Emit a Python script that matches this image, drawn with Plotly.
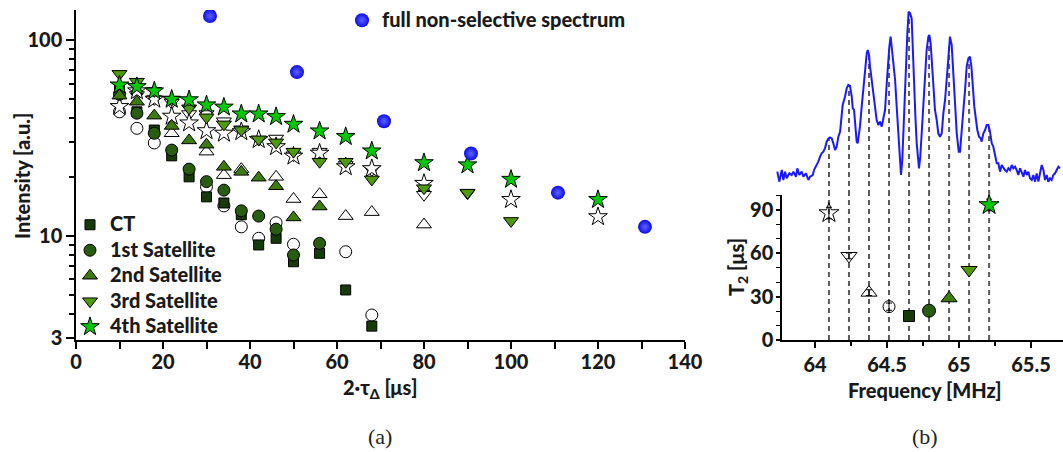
import numpy as np
import plotly.graph_objects as go

W, H = 1063, 452

# ---------------- echo decay data: 2*tau_delta [µs] vs. intensity [a.u.] ----------------
tau_ct = [10, 14, 18, 22, 26, 30, 34, 38, 42, 46, 50, 56, 62, 68]
int_ct = [57, 43, 34.7, 25.6, 20.0, 15.8, 14.7, 12.8, 8.97, 9.7, 7.36, 8.13, 5.28, 3.45]

tau_s1 = [10, 14, 18, 22, 26, 30, 34, 38, 42, 46, 50, 56]
int_s1 = [52.8, 42.3, 33.4, 27.4, 21.9, 18.9, 17.1, 13.4, 12.6, 10.8, 7.97, 9.14]
tau_s1_low = [10, 14, 18, 30, 34, 38, 42, 46, 50, 62, 68]
int_s1_low = [43.0, 35.4, 29.8, 17.8, 14.2, 11.1, 9.7, 11.65, 9.04, 8.28, 3.93]

tau_s2 = [10, 14, 18, 22, 26, 30, 34, 38, 42, 46, 50, 56]
int_s2 = [52, 48.4, 41.1, 36.4, 30.7, 29.2, 22.5, 21.2, 19.8, 17.9, 12.4, 14.1]
tau_s2_low = [22, 30, 34, 38, 46, 50, 56, 62, 68, 80]
int_s2_low = [33.4, 26.9, 20.4, 21.9, 20.0, 15.4, 16.3, 12.6, 13.2, 11.4]

tau_s3 = [10, 14, 18, 22, 26, 30, 34, 38, 42, 46, 50, 56, 62, 68, 80, 90, 100]
int_s3 = [67.2, 61.3, 55.0, 49.6, 44.8, 40.3, 37.1, 34.7, 31.1, 30.0, 26.9, 23.9, 23.9,
          19.4, 17.5, 16.6, 11.9]
tau_s3_low = [14, 18, 22, 26, 30, 34, 38, 42, 46, 50, 56, 62, 68, 80, 90]
int_s3_low = [52.4, 50.0, 48.0, 41.9, 41.9, 38.5, 35.0, 31.0, 31.4, 25.8, 26.9, 23.0,
              21.7, 16.2, 16.5]

tau_s4 = [10, 14, 18, 22, 26, 30, 34, 38, 42, 46, 50, 56, 62, 68, 80, 90, 100, 120]
int_s4 = [58.9, 57.8, 54.9, 49.8, 49.5, 46.6, 45.4, 41.9, 41.9, 40.6, 37.1, 34.3, 32.1,
          27.1, 23.6, 23.0, 19.4, 15.3]
tau_s4_low = [10, 14, 18, 22, 26, 30, 34, 38, 42, 46, 50, 56, 62, 68, 80, 100, 120]
int_s4_low = [45.7, 55.0, 49.8, 40.8, 37.7, 34.4, 33.4, 34.0, 31.0, 28.5, 25.5, 26.4,
              22.5, 22.0, 18.5, 15.3, 12.5]

tau_full = [30.8, 50.8, 70.8, 90.8, 110.8, 130.8]
int_full = [132.7, 68.6, 38.5, 26.3, 16.6, 11.1]

# ---------------- NMR spectrum (frequency [MHz], intensity [a.u.]) ----------------
spec_freq = [
    63.738, 63.752, 63.769, 63.780, 63.792, 63.803, 63.822, 63.838, 63.850, 63.868,
    63.877, 63.891, 63.907, 63.919, 63.937, 63.954, 63.965, 63.984, 63.993, 64.007,
    64.023, 64.035, 64.046, 64.058, 64.069, 64.081, 64.093, 64.104, 64.116, 64.127,
    64.139, 64.150, 64.162, 64.174, 64.185, 64.192, 64.208, 64.220, 64.231, 64.243,
    64.255, 64.262, 64.271, 64.280, 64.289, 64.296, 64.306, 64.312, 64.324, 64.336,
    64.347, 64.359, 64.366, 64.375, 64.382, 64.394, 64.405, 64.417, 64.428, 64.440,
    64.451, 64.463, 64.475, 64.486, 64.498, 64.509, 64.516, 64.525, 64.532, 64.544,
    64.556, 64.567, 64.579, 64.590, 64.597, 64.606, 64.613, 64.620, 64.630, 64.641,
    64.650, 64.660, 64.671, 64.678, 64.687, 64.697, 64.706, 64.715, 64.722, 64.731,
    64.741, 64.752, 64.764, 64.775, 64.787, 64.794, 64.803, 64.812, 64.822, 64.833,
    64.845, 64.856, 64.868, 64.880, 64.891, 64.903, 64.914, 64.926, 64.937, 64.949,
    64.956, 64.965, 64.975, 64.984, 64.998, 65.007, 65.019, 65.030, 65.042, 65.053,
    65.065, 65.076, 65.086, 65.095, 65.106, 65.118, 65.127, 65.139, 65.150, 65.157,
    65.169, 65.181, 65.192, 65.204, 65.215, 65.227, 65.238, 65.250, 65.262, 65.273,
    65.285, 65.296, 65.308, 65.319, 65.331, 65.343, 65.354, 65.366, 65.377, 65.389,
    65.400, 65.412, 65.424, 65.435, 65.447, 65.458, 65.470, 65.481, 65.493, 65.505,
    65.516, 65.528, 65.539, 65.551, 65.562, 65.574, 65.586, 65.597, 65.609, 65.620,
    65.632, 65.643, 65.655, 65.667, 65.678, 65.690, 65.701,
]
spec_int = [
    9.0, 3.0, 10.0, 4.0, 9.0, 5.0, 8.0, 7.0, 9.0, 6.0,
    11.0, 7.0, 9.0, 6.0, 8.0, 4.0, 6.0, 7.0, 10.0, 12.0,
    15.0, 18.0, 20.0, 21.0, 23.0, 27.0, 29.0, 29.6, 29.0, 26.0,
    22.0, 24.0, 30.0, 33.0, 42.0, 49.0, 54.0, 59.0, 61.0, 60.4,
    54.0, 47.0, 46.0, 38.0, 27.0, 26.0, 32.0, 36.0, 48.0, 60.0,
    72.0, 80.0, 82.0, 79.0, 72.0, 64.0, 56.0, 48.0, 40.0, 37.0,
    39.0, 36.0, 42.0, 46.0, 62.0, 78.0, 84.0, 90.0, 84.0, 78.0,
    64.0, 48.0, 32.0, 12.0, 7.0, 16.0, 32.0, 52.0, 72.0, 92.0,
    105.0, 104.0, 101.0, 82.0, 62.0, 42.0, 26.0, 14.0, 11.0, 18.0,
    32.0, 52.0, 68.0, 82.0, 90.0, 91.0, 86.0, 72.0, 58.0, 46.0,
    40.0, 32.0, 30.0, 32.0, 44.0, 52.0, 64.0, 80.0, 90.0, 85.0,
    72.0, 60.0, 46.0, 32.0, 21.0, 21.0, 32.0, 46.0, 58.0, 72.0,
    77.0, 78.0, 72.0, 60.0, 48.0, 40.0, 34.0, 30.0, 29.0, 27.0,
    32.0, 34.0, 37.0, 37.0, 33.0, 26.0, 24.0, 19.0, 14.0, 14.0,
    9.0, 13.0, 11.0, 10.0, 9.0, 11.0, 10.0, 13.0, 11.0, 12.0,
    10.0, 7.0, 11.0, 8.0, 6.0, 10.0, 7.0, 9.0, 5.0, 4.0,
    7.0, 3.0, 8.0, 3.0, 9.0, 13.0, 10.0, 4.0, 7.0, 3.0,
    5.0, 4.0, 7.0, 8.0, 10.0, 12.0, 11.0,
]

# ---------------- T2 of each transition ----------------
sat_freq = [64.097, 64.236, 64.375, 64.514, 64.653, 64.792, 64.931, 65.070, 65.209]
t2_val = [87.9, 58.2, 32.8, 23.1, 16.6, 20.3, 28.9, 48.5, 93.5]
t2_err = [4, 2, 2, 2.5, 1, 1, 1, 1, 4]

# ---------------- styling ----------------
C_CT = "#163a08"
C_S1 = "#285c10"
C_S2 = "#3c7c0c"
C_S3 = "#4f9a08"
C_S4 = "#00c800"
C_TXT = "#1a1a1a"
FONT = "Lato"
BOLD = 900


def px_x(p):
    return p / W


def px_y(p):
    return 1 - p / H


def big(label, size):
    return f'<span style="font-size:{size}px">{label}</span>'


fig = go.Figure()

# open symbols (low-frequency satellites), drawn below the filled ones
open_sets = [
    (tau_s1_low, int_s1_low, "circle", 12),
    (tau_s2_low, int_s2_low, "triangle-up", 13),
    (tau_s3_low, int_s3_low, "triangle-down", 13),
    (tau_s4_low, int_s4_low, "star", 14),
]
for xs, ys, sym, sz in open_sets:
    fig.add_trace(go.Scatter(
        x=xs, y=ys, mode="markers", showlegend=False, xaxis="x", yaxis="y",
        marker=dict(symbol=sym, size=sz, color="white", line=dict(color="black", width=1)),
    ))

filled_sets = [
    (tau_ct, int_ct, "square", 10, C_CT, "CT"),
    (tau_s1, int_s1, "circle", 12, C_S1, "1st Satellite"),
    (tau_s2, int_s2, "triangle-up", 13, C_S2, "2nd Satellite"),
    (tau_s3, int_s3, "triangle-down", 13, C_S3, "3rd Satellite"),
    (tau_s4, int_s4, "star", 14, C_S4, "4th Satellite"),
]
for xs, ys, sym, sz, col, name in filled_sets:
    fig.add_trace(go.Scatter(
        x=xs, y=ys, mode="markers", name=big(name, 20), legend="legend",
        xaxis="x", yaxis="y",
        marker=dict(symbol=sym, size=sz, color=col, line=dict(color="black", width=1)),
    ))

fig.add_trace(go.Scatter(
    x=tau_full, y=int_full, mode="markers", name=big("full non-selective spectrum", 20),
    legend="legend2", xaxis="x", yaxis="y",
    marker=dict(symbol="circle", size=14, color="#0c0ce8",
                gradient=dict(type="radial", color="#5c64ff"), line=dict(width=0)),
))

# ---------------- right panel: spectrum and T2 ----------------
dash_col = "#5a5a5a"
T2_TOP = 100.4
SPEC_BOTTOM = -5
peak_h = np.interp(sat_freq, spec_freq, spec_int)
for f, h in zip(sat_freq, peak_h):
    fig.add_trace(go.Scatter(
        x=[f, f], y=[0, T2_TOP], mode="lines", showlegend=False, xaxis="x2", yaxis="y2",
        line=dict(color=dash_col, width=2, dash="5px,4px"), hoverinfo="skip",
    ))
    fig.add_trace(go.Scatter(
        x=[f, f], y=[SPEC_BOTTOM, h], mode="lines", showlegend=False, xaxis="x3", yaxis="y3",
        line=dict(color=dash_col, width=2, dash="5px,4px"), hoverinfo="skip",
    ))

fig.add_trace(go.Scatter(
    x=spec_freq, y=spec_int, mode="lines", showlegend=False, xaxis="x3", yaxis="y3",
    line=dict(color="#1a1aff", width=2),
))

t2_symbols = ["star-open", "triangle-down-open", "triangle-up-open", "circle-open",
              "square", "circle", "triangle-up", "triangle-down", "star"]
t2_colors = ["black", "black", "black", "black", C_CT, C_S1, C_S2, C_S3, C_S4]
t2_sizes = [15, 14, 14, 12, 11, 13, 14, 14, 15]
fig.add_trace(go.Scatter(
    x=sat_freq, y=t2_val, mode="markers", showlegend=False, xaxis="x2", yaxis="y2",
    error_y=dict(type="data", array=t2_err, color="black", thickness=1, width=3),
    marker=dict(symbol=t2_symbols, size=t2_sizes, color=t2_colors, opacity=1,
                line=dict(color="black", width=1)),
))

tickfont = dict(family=FONT, size=20, weight=BOLD, color=C_TXT)
axis_common = dict(showline=True, linecolor="black", linewidth=1.5, ticks="outside",
                   tickcolor="black", tickwidth=1.5, showgrid=False, zeroline=False,
                   tickfont=tickfont, fixedrange=True, automargin=False)

fig.update_layout(
    width=W, height=H, margin=dict(l=0, r=0, t=0, b=0, autoexpand=False),
    paper_bgcolor="white", plot_bgcolor="rgba(0,0,0,0)",
    xaxis=dict(domain=[px_x(76), px_x(685)], range=[0, 140], anchor="y",
               tickvals=list(range(0, 141, 20)), ticklen=7, ticklabelstandoff=-4,
               minor=dict(tickvals=list(range(10, 141, 20)), ticklen=7, ticks="outside",
                          tickcolor="black", tickwidth=1.5),
               **axis_common),
    yaxis=dict(domain=[px_y(340), px_y(10)], type="log", range=[0.4668, 2.1539], anchor="x",
               tickvals=[3, 10, 100], ticktext=["3", "10", "100"], ticklen=8,
               minor=dict(tickvals=[4, 5, 6, 7, 8, 9, 20, 30, 40, 50, 60, 70, 80, 90],
                          ticklen=5, ticks="outside", tickcolor="black", tickwidth=1.5),
               **axis_common),
    xaxis2=dict(domain=[px_x(782), 1.0], range=[63.771, 65.722], anchor="y2",
                tickvals=[64, 64.5, 65, 65.5], ticktext=["64", "64.5", "65", "65.5"], ticklen=6,
                minor=dict(tickvals=[64.25, 64.75, 65.25], ticklen=4, ticks="outside",
                           tickcolor="black", tickwidth=1.5),
                **axis_common),
    yaxis2=dict(domain=[px_y(340), px_y(195)], range=[0, T2_TOP], anchor="x2",
                tickvals=[0, 30, 60, 90], ticklen=4, ticklabelstandoff=-1,
                minor=dict(tickvals=[10, 20, 40, 50, 70, 80, 100], ticklen=4, ticks="outside",
                           tickcolor="black", tickwidth=1.2),
                **axis_common),
    xaxis3=dict(domain=[px_x(775), 1.0], range=[63.722, 65.722], anchor="y3", visible=False,
                fixedrange=True, automargin=False),
    yaxis3=dict(domain=[px_y(195), px_y(8)], range=[SPEC_BOTTOM, 107.2], anchor="x3",
                visible=False, fixedrange=True, automargin=False),
    legend=dict(x=px_x(70), y=px_y(207), xanchor="left", yanchor="top",
                bgcolor="rgba(0,0,0,0)", font=dict(family=FONT, size=17.3, weight=BOLD,
                                                    color=C_TXT),
                tracegroupgap=0, itemwidth=30),
    legend2=dict(x=px_x(342), y=px_y(2), xanchor="left", yanchor="top",
                 bgcolor="rgba(0,0,0,0)", font=dict(family=FONT, size=18, weight=BOLD,
                                                     color=C_TXT)),
    showlegend=True,
)

title_font = dict(family=FONT, size=20, weight=BOLD, color=C_TXT)
annotations = [
    dict(text="Intensity [a.u.]", x=px_x(22), y=px_y(176), textangle=-90, font=title_font),
    dict(text="2·τ<sub>Δ</sub> [μs]", x=px_x(380), y=px_y(388), font=title_font),
    dict(text="T<sub>2</sub> [μs]", x=px_x(737), y=px_y(267), textangle=-90, font=title_font),
    dict(text="Frequency [MHz]", x=px_x(925), y=px_y(390), font=title_font),
    dict(text="(a)", x=px_x(380), y=px_y(436),
         font=dict(family="Liberation Serif", size=22, color="#222")),
    dict(text="(b)", x=px_x(925), y=px_y(436),
         font=dict(family="Liberation Serif", size=22, color="#222")),
]
for a in annotations:
    fig.add_annotation(xref="paper", yref="paper", xanchor="center", yanchor="middle",
                       showarrow=False, **a)

fig.write_html("out.html")
